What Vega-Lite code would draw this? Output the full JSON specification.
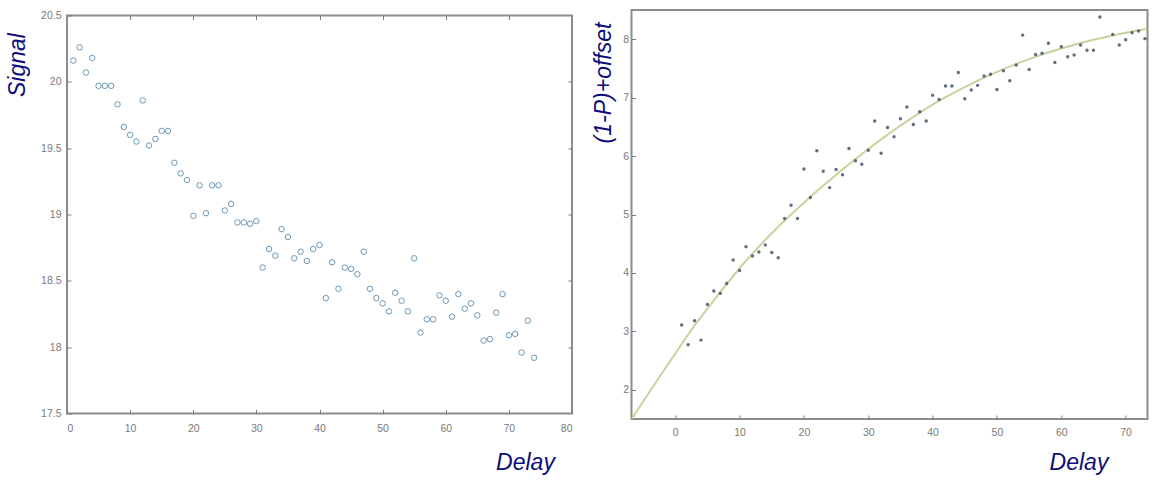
{
  "$schema": "https://vega.github.io/schema/vega-lite/v6.json",
  "padding": {"left": 5, "top": 9, "right": 0, "bottom": 0},
  "background": "white",
  "bounds": "flush",
  "center": true,
  "spacing": 59.5,
  "config": {
    "view": {"stroke": "#8c8c8c", "strokeWidth": 2},
    "axis": {
      "grid": false,
      "domain": false,
      "labelFont": "Liberation Sans",
      "labelFontSize": 10.5,
      "labelColor": "#7a7a7a",
      "tickColor": "#7a7a7a",
      "tickSize": -4,
      "tickWidth": 1,
      "titleFont": "Liberation Sans",
      "titleFontSize": 23,
      "titleFontStyle": "italic",
      "titleFontWeight": "normal",
      "titleColor": "#0c0c7a"
    }
  },
  "hconcat": [
    {
      "width": 505,
      "height": 398,
      "data": {"values": [
        {"delay": 1, "signal": 20.16}, {"delay": 2, "signal": 20.26}, {"delay": 3, "signal": 20.07}, {"delay": 4, "signal": 20.18},
        {"delay": 5, "signal": 19.97}, {"delay": 6, "signal": 19.97}, {"delay": 7, "signal": 19.97}, {"delay": 8, "signal": 19.83},
        {"delay": 9, "signal": 19.66}, {"delay": 10, "signal": 19.60}, {"delay": 11, "signal": 19.55}, {"delay": 12, "signal": 19.86},
        {"delay": 13, "signal": 19.52}, {"delay": 14, "signal": 19.57}, {"delay": 15, "signal": 19.63}, {"delay": 16, "signal": 19.63},
        {"delay": 17, "signal": 19.39}, {"delay": 18, "signal": 19.31}, {"delay": 19, "signal": 19.26}, {"delay": 20, "signal": 18.99},
        {"delay": 21, "signal": 19.22}, {"delay": 22, "signal": 19.01}, {"delay": 23, "signal": 19.22}, {"delay": 24, "signal": 19.22},
        {"delay": 25, "signal": 19.03}, {"delay": 26, "signal": 19.08}, {"delay": 27, "signal": 18.94}, {"delay": 28, "signal": 18.94},
        {"delay": 29, "signal": 18.93}, {"delay": 30, "signal": 18.95}, {"delay": 31, "signal": 18.60}, {"delay": 32, "signal": 18.74},
        {"delay": 33, "signal": 18.69}, {"delay": 34, "signal": 18.89}, {"delay": 35, "signal": 18.83}, {"delay": 36, "signal": 18.67},
        {"delay": 37, "signal": 18.72}, {"delay": 38, "signal": 18.65}, {"delay": 39, "signal": 18.74}, {"delay": 40, "signal": 18.77},
        {"delay": 41, "signal": 18.37}, {"delay": 42, "signal": 18.64}, {"delay": 43, "signal": 18.44}, {"delay": 44, "signal": 18.60},
        {"delay": 45, "signal": 18.59}, {"delay": 46, "signal": 18.55}, {"delay": 47, "signal": 18.72}, {"delay": 48, "signal": 18.44},
        {"delay": 49, "signal": 18.37}, {"delay": 50, "signal": 18.33}, {"delay": 51, "signal": 18.27}, {"delay": 52, "signal": 18.41},
        {"delay": 53, "signal": 18.35}, {"delay": 54, "signal": 18.27}, {"delay": 55, "signal": 18.67}, {"delay": 56, "signal": 18.11},
        {"delay": 57, "signal": 18.21}, {"delay": 58, "signal": 18.21}, {"delay": 59, "signal": 18.39}, {"delay": 60, "signal": 18.35},
        {"delay": 61, "signal": 18.23}, {"delay": 62, "signal": 18.40}, {"delay": 63, "signal": 18.29}, {"delay": 64, "signal": 18.33},
        {"delay": 65, "signal": 18.24}, {"delay": 66, "signal": 18.05}, {"delay": 67, "signal": 18.06}, {"delay": 68, "signal": 18.26},
        {"delay": 69, "signal": 18.40}, {"delay": 70, "signal": 18.09}, {"delay": 71, "signal": 18.10}, {"delay": 72, "signal": 17.96},
        {"delay": 73, "signal": 18.20}, {"delay": 74, "signal": 17.92}
      ]},
      "resolve": {"axis": {"x": "independent", "y": "independent"}},
      "layer": [
        {
          "mark": {"type": "point", "shape": "circle", "filled": false, "size": 30, "strokeWidth": 1, "color": "#6a97b6", "opacity": 1},
          "encoding": {
            "x": {"field": "delay", "type": "quantitative",
                  "scale": {"domain": [0, 80], "nice": false, "zero": false},
                  "axis": {"values": [0, 10, 20, 30, 40, 50, 60, 70, 80], "labelPadding": 14, "title": "Delay",
                           "titleX": 458, "titleY": 55.5, "titleAlign": "center", "titleBaseline": "alphabetic", "titleAnchor": null}},
            "y": {"field": "signal", "type": "quantitative",
                  "scale": {"domain": [17.5, 20.5], "nice": false, "zero": false},
                  "axis": {"values": [17.5, 18, 18.5, 19, 19.5, 20, 20.5], "format": ".1~f", "labelPadding": 10, "title": "Signal",
                           "titleX": -43, "titleY": 49, "titleAngle": -90, "titleAlign": "center", "titleBaseline": "alphabetic", "titleAnchor": null}}
          }
        },
        {
          "mark": {"type": "point", "opacity": 0},
          "encoding": {
            "x": {"field": "delay", "type": "quantitative",
                  "scale": {"domain": [0, 80], "nice": false, "zero": false},
                  "axis": {"orient": "top", "values": [10, 20, 30, 40, 50, 60, 70], "labels": false, "title": null}},
            "y": {"field": "signal", "type": "quantitative",
                  "scale": {"domain": [17.5, 20.5], "nice": false, "zero": false},
                  "axis": {"orient": "right", "values": [18, 18.5, 19, 19.5, 20], "labels": false, "title": null}}
          }
        }
      ]
    },
    {
      "width": 516,
      "height": 409,
      "resolve": {"axis": {"x": "independent", "y": "independent"}},
      "layer": [
        {
          "data": {"values": [
            {"delay": -6.8, "fit": 1.50}, {"delay": -3, "fit": 2.13}, {"delay": 0, "fit": 2.62}, {"delay": 3, "fit": 3.10},
            {"delay": 6, "fit": 3.53}, {"delay": 10, "fit": 4.08}, {"delay": 15, "fit": 4.68}, {"delay": 20, "fit": 5.20},
            {"delay": 25, "fit": 5.68}, {"delay": 30, "fit": 6.12}, {"delay": 35, "fit": 6.52}, {"delay": 40, "fit": 6.88},
            {"delay": 45, "fit": 7.18}, {"delay": 50, "fit": 7.44}, {"delay": 55, "fit": 7.66}, {"delay": 60, "fit": 7.84},
            {"delay": 65, "fit": 7.99}, {"delay": 70, "fit": 8.11}, {"delay": 73.4, "fit": 8.18}
          ]},
          "mark": {"type": "line", "color": "#c6d49c", "strokeWidth": 2, "interpolate": "monotone", "clip": true},
          "encoding": {
            "x": {"field": "delay", "type": "quantitative",
                  "scale": {"domain": [-6.8, 73.4], "nice": false, "zero": false},
                  "axis": {"values": [0, 10, 20, 30, 40, 50, 60, 70], "labelPadding": 12, "title": "Delay",
                           "titleX": 447, "titleY": 50, "titleAlign": "center", "titleBaseline": "alphabetic", "titleAnchor": null}},
            "y": {"field": "fit", "type": "quantitative",
                  "scale": {"domain": [1.5, 8.5], "nice": false, "zero": false},
                  "axis": {"values": [2, 3, 4, 5, 6, 7, 8], "labelPadding": 7, "title": "(1-P)+offset",
                           "titleX": -21, "titleY": 72.5, "titleAngle": -90, "titleAlign": "center", "titleBaseline": "alphabetic", "titleAnchor": null}}
          }
        },
        {
          "data": {"values": [
            {"delay": 1, "p": 3.11}, {"delay": 2, "p": 2.77}, {"delay": 3, "p": 3.18}, {"delay": 4, "p": 2.85},
            {"delay": 5, "p": 3.46}, {"delay": 6, "p": 3.69}, {"delay": 7, "p": 3.65}, {"delay": 8, "p": 3.82},
            {"delay": 9, "p": 4.22}, {"delay": 10, "p": 4.04}, {"delay": 11, "p": 4.45}, {"delay": 12, "p": 4.29},
            {"delay": 13, "p": 4.36}, {"delay": 14, "p": 4.48}, {"delay": 15, "p": 4.35}, {"delay": 16, "p": 4.26},
            {"delay": 17, "p": 4.93}, {"delay": 18, "p": 5.16}, {"delay": 19, "p": 4.93}, {"delay": 20, "p": 5.78},
            {"delay": 21, "p": 5.29}, {"delay": 22, "p": 6.09}, {"delay": 23, "p": 5.74}, {"delay": 24, "p": 5.46},
            {"delay": 25, "p": 5.77}, {"delay": 26, "p": 5.68}, {"delay": 27, "p": 6.13}, {"delay": 28, "p": 5.92},
            {"delay": 29, "p": 5.86}, {"delay": 30, "p": 6.10}, {"delay": 31, "p": 6.60}, {"delay": 32, "p": 6.05},
            {"delay": 33, "p": 6.49}, {"delay": 34, "p": 6.33}, {"delay": 35, "p": 6.64}, {"delay": 36, "p": 6.84},
            {"delay": 37, "p": 6.54}, {"delay": 38, "p": 6.76}, {"delay": 39, "p": 6.60}, {"delay": 40, "p": 7.04},
            {"delay": 41, "p": 6.97}, {"delay": 42, "p": 7.20}, {"delay": 43, "p": 7.20}, {"delay": 44, "p": 7.43},
            {"delay": 45, "p": 6.98}, {"delay": 46, "p": 7.13}, {"delay": 47, "p": 7.21}, {"delay": 48, "p": 7.37},
            {"delay": 49, "p": 7.40}, {"delay": 50, "p": 7.14}, {"delay": 51, "p": 7.46}, {"delay": 52, "p": 7.29},
            {"delay": 53, "p": 7.56}, {"delay": 54, "p": 8.07}, {"delay": 55, "p": 7.48}, {"delay": 56, "p": 7.74},
            {"delay": 57, "p": 7.76}, {"delay": 58, "p": 7.93}, {"delay": 59, "p": 7.60}, {"delay": 60, "p": 7.87},
            {"delay": 61, "p": 7.70}, {"delay": 62, "p": 7.73}, {"delay": 63, "p": 7.90}, {"delay": 64, "p": 7.81},
            {"delay": 65, "p": 7.81}, {"delay": 66, "p": 8.38}, {"delay": 68, "p": 8.08}, {"delay": 69, "p": 7.90},
            {"delay": 70, "p": 7.99}, {"delay": 71, "p": 8.11}, {"delay": 72, "p": 8.14}, {"delay": 73, "p": 8.01}
          ]},
          "layer": [
            {
              "mark": {"type": "point", "shape": "circle", "filled": true, "size": 12, "color": "#4b6070", "opacity": 0.9},
              "encoding": {
                "x": {"field": "delay", "type": "quantitative", "scale": {"domain": [-6.8, 73.4], "nice": false, "zero": false}, "axis": null},
                "y": {"field": "p", "type": "quantitative", "scale": {"domain": [1.5, 8.5], "nice": false, "zero": false}, "axis": null}
              }
            },
            {
              "mark": {"type": "point", "opacity": 0},
              "encoding": {
                "x": {"field": "delay", "type": "quantitative",
                      "scale": {"domain": [-6.8, 73.4], "nice": false, "zero": false},
                      "axis": {"orient": "top", "values": [0, 10, 20, 30, 40, 50, 60, 70], "labels": false, "title": null}},
                "y": {"field": "p", "type": "quantitative",
                      "scale": {"domain": [1.5, 8.5], "nice": false, "zero": false},
                      "axis": {"orient": "right", "values": [2, 3, 4, 5, 6, 7, 8], "labels": false, "title": null}}
              }
            }
          ]
        }
      ]
    }
  ]
}
